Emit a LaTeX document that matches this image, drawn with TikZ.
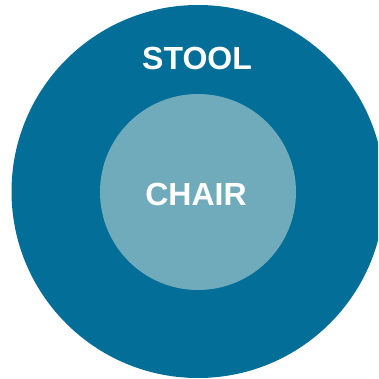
\documentclass[tikz,border=0pt]{standalone}
\usepackage{fontspec}
\setmainfont{Liberation Sans}
\definecolor{outerblue}{HTML}{036E97}
\definecolor{innerblue}{HTML}{70ABBC}
\begin{document}
\begin{tikzpicture}[x=1pt,y=-1pt,
  lbl/.style={text=white,font=\fontsize{32}{36}\selectfont\bfseries,inner sep=0pt}]
\useasboundingbox (0,0) rectangle (378,379);
\begin{scope}
\clip (0,0) rectangle (378,379);
\fill[outerblue] (198,191.5) circle[radius=186.5];
\end{scope}
\fill[innerblue] (198,192) circle[radius=98];
\node[lbl] (stool) at (197,58.5) {STOOL};
\node[lbl] (chair) at (196,194.5) {CHAIR};
\end{tikzpicture}
\end{document}
